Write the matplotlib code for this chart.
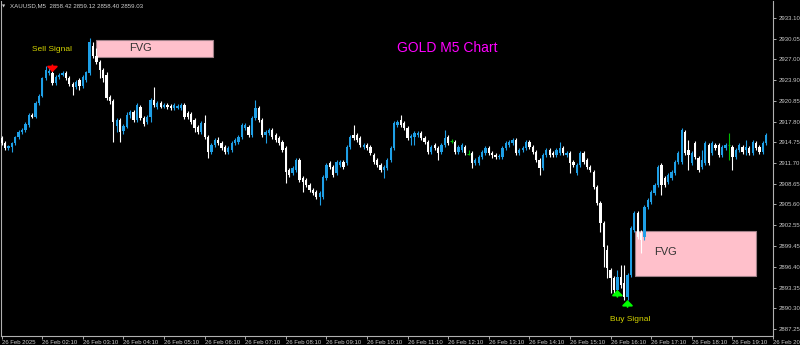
import matplotlib
matplotlib.use('Agg')
import matplotlib.pyplot as plt
import numpy as np
from matplotlib.patches import Rectangle

plt.rcParams['font.family'] = ['Liberation Sans', 'DejaVu Sans']

# ---------------- data (XAUUSD M5, 26 Feb 2025, from 01:10) ----------------
opens = [
    2915.4, 2914.7, 2913.9, 2914.1, 2914.7, 2915.6, 2916.3, 2916.6, 2917.3, 2918.8,
    2918.5, 2920.6, 2921.6, 2924.3, 2925.0, 2925.0, 2923.5, 2924.4, 2924.7, 2925.0,
    2924.3, 2923.4, 2922.9, 2924.0, 2923.1, 2924.0, 2925.0, 2929.0, 2927.5, 2926.6,
    2925.4, 2924.7, 2921.5, 2920.9, 2917.2, 2918.1, 2916.4, 2917.0, 2918.8, 2919.2,
    2918.1, 2920.0, 2918.4, 2917.8, 2918.5, 2921.0, 2920.0, 2920.6, 2920.0, 2920.3,
    2920.1, 2919.8, 2919.8, 2919.8, 2920.3, 2919.1, 2918.9, 2918.1, 2917.0, 2916.3,
    2917.6, 2915.6, 2913.3, 2914.4, 2915.1, 2914.7, 2914.1, 2913.3, 2913.6, 2914.7,
    2914.8, 2915.6, 2916.9, 2917.0, 2915.9, 2918.4, 2919.8, 2918.1, 2915.9, 2916.1,
    2916.6, 2915.9, 2915.4, 2914.8, 2913.9, 2910.7, 2910.3, 2910.7, 2912.2, 2909.5,
    2909.2, 2908.5, 2907.7, 2907.4, 2906.7, 2906.7, 2909.5, 2911.7, 2911.1, 2910.3,
    2911.4, 2911.9, 2911.7, 2914.1, 2915.9, 2915.9, 2915.4, 2914.1, 2914.4, 2914.1,
    2912.9, 2912.2, 2911.4, 2910.7, 2911.0, 2912.2, 2913.9, 2917.3, 2918.1, 2917.6,
    2916.9, 2915.4, 2915.6, 2915.9, 2916.1, 2915.4, 2914.8, 2913.3, 2914.4, 2913.9,
    2913.3, 2914.4, 2915.6, 2915.0, 2914.8, 2913.3, 2913.6, 2914.1, 2913.1, 2913.2,
    2911.7, 2911.7, 2912.6, 2913.2, 2913.9, 2913.2, 2912.9, 2912.6, 2912.6, 2913.9,
    2914.4, 2914.7, 2915.1, 2913.2, 2913.6, 2913.9, 2914.8, 2914.1, 2913.3, 2912.2,
    2911.0, 2912.9, 2913.6, 2913.2, 2912.9, 2913.2, 2913.9, 2912.9, 2913.2, 2911.9,
    2910.3, 2911.4, 2913.2, 2912.2, 2911.1, 2910.4, 2908.2, 2905.8, 2902.9, 2898.9,
    2896.0, 2894.8, 2893.0, 2894.9, 2894.0, 2892.0, 2895.2, 2901.9, 2904.3, 2901.4,
    2900.8, 2905.2, 2906.0, 2907.3, 2908.5, 2911.4, 2909.5, 2908.9, 2909.5, 2910.3,
    2911.9, 2911.9, 2916.3, 2913.6, 2911.7, 2914.7, 2912.5, 2911.1, 2911.7, 2914.4,
    2913.2, 2914.4, 2914.4, 2912.9, 2913.9, 2914.4, 2914.1, 2912.6, 2913.6, 2914.1,
    2913.6, 2913.9, 2913.2, 2914.7, 2914.1, 2913.3, 2914.7,
]
highs = [
    2915.7, 2915.0, 2914.4, 2914.8, 2915.7, 2916.6, 2916.9, 2917.8, 2919.1, 2919.1,
    2920.9, 2921.9, 2924.4, 2926.0, 2926.0, 2925.4, 2924.7, 2925.0, 2925.3, 2925.3,
    2924.5, 2923.7, 2924.0, 2924.3, 2924.7, 2925.3, 2930.1, 2929.6, 2928.7, 2926.9,
    2925.7, 2925.1, 2921.7, 2921.2, 2918.4, 2918.4, 2917.5, 2919.2, 2919.5, 2919.5,
    2920.6, 2920.3, 2918.6, 2918.8, 2921.3, 2922.9, 2920.9, 2920.9, 2920.6, 2920.6,
    2920.4, 2920.6, 2920.4, 2920.6, 2920.6, 2919.4, 2919.2, 2918.4, 2917.3, 2917.9,
    2918.8, 2915.9, 2914.7, 2915.4, 2915.6, 2915.0, 2914.4, 2914.2, 2915.0, 2915.4,
    2915.9, 2917.6, 2917.6, 2917.3, 2918.6, 2921.0, 2920.1, 2918.4, 2916.6, 2916.9,
    2916.9, 2916.1, 2915.7, 2915.1, 2914.2, 2911.0, 2911.3, 2912.5, 2912.5, 2909.8,
    2909.5, 2908.8, 2908.0, 2907.7, 2907.6, 2910.0, 2911.7, 2912.0, 2911.4, 2912.2,
    2912.2, 2912.2, 2914.4, 2915.9, 2917.3, 2916.1, 2915.7, 2914.7, 2914.7, 2914.4,
    2913.2, 2912.5, 2911.7, 2911.4, 2912.5, 2914.2, 2917.9, 2918.1, 2918.8, 2917.9,
    2917.2, 2916.0, 2916.4, 2916.4, 2916.4, 2915.7, 2915.1, 2914.4, 2914.7, 2914.2,
    2914.7, 2916.6, 2915.9, 2915.3, 2915.1, 2914.4, 2914.7, 2914.4, 2913.6, 2913.5,
    2912.5, 2912.9, 2913.6, 2914.2, 2914.2, 2913.5, 2913.2, 2913.0, 2914.2, 2915.0,
    2915.1, 2915.4, 2915.4, 2913.9, 2914.2, 2915.1, 2915.1, 2914.4, 2913.6, 2912.5,
    2913.2, 2913.9, 2913.9, 2913.5, 2913.9, 2914.8, 2914.2, 2913.5, 2913.5, 2912.2,
    2911.7, 2913.5, 2913.5, 2912.5, 2911.4, 2910.7, 2908.5, 2906.1, 2903.2, 2899.6,
    2896.2, 2895.1, 2896.0, 2896.7, 2896.7, 2895.5, 2902.4, 2904.6, 2904.6, 2901.9,
    2905.5, 2906.6, 2907.7, 2908.8, 2911.4, 2911.7, 2909.8, 2910.3, 2910.7, 2912.2,
    2913.5, 2916.9, 2916.6, 2915.1, 2913.5, 2915.0, 2912.8, 2913.6, 2915.0, 2914.7,
    2915.0, 2914.7, 2914.7, 2914.4, 2914.7, 2916.1, 2914.4, 2913.9, 2914.7, 2914.4,
    2915.1, 2914.2, 2915.1, 2915.0, 2914.4, 2915.0, 2916.1,
]
lows = [
    2914.4, 2913.6, 2913.6, 2913.3, 2914.4, 2915.3, 2916.0, 2916.3, 2917.0, 2918.4,
    2918.4, 2920.3, 2921.5, 2924.0, 2924.7, 2923.2, 2923.2, 2924.1, 2924.5, 2924.0,
    2923.1, 2921.7, 2922.6, 2922.5, 2922.8, 2923.7, 2924.7, 2927.2, 2926.3, 2924.3,
    2923.7, 2921.0, 2920.4, 2914.8, 2916.3, 2914.8, 2916.0, 2916.9, 2918.4, 2917.8,
    2917.8, 2918.1, 2917.2, 2917.5, 2917.8, 2920.0, 2919.7, 2919.8, 2919.8, 2919.7,
    2919.5, 2919.5, 2919.7, 2919.5, 2918.2, 2918.2, 2917.5, 2916.3, 2916.0, 2916.0,
    2915.3, 2912.5, 2913.0, 2914.1, 2914.4, 2913.6, 2913.0, 2913.0, 2913.3, 2914.4,
    2914.5, 2915.3, 2916.6, 2915.6, 2915.6, 2918.1, 2917.8, 2915.6, 2914.7, 2915.9,
    2915.3, 2914.8, 2914.4, 2913.3, 2908.8, 2909.7, 2910.0, 2910.4, 2908.9, 2907.4,
    2908.2, 2907.4, 2907.0, 2906.4, 2905.5, 2906.4, 2909.2, 2910.8, 2909.7, 2910.0,
    2911.1, 2910.8, 2911.4, 2913.8, 2915.1, 2914.8, 2914.1, 2913.8, 2913.6, 2912.9,
    2911.6, 2911.1, 2910.4, 2909.5, 2910.7, 2911.9, 2913.6, 2917.0, 2917.0, 2916.6,
    2915.1, 2914.4, 2914.4, 2915.6, 2915.1, 2914.5, 2913.0, 2913.0, 2913.6, 2912.2,
    2913.0, 2914.1, 2914.4, 2914.7, 2913.0, 2913.0, 2913.3, 2912.9, 2912.9, 2911.0,
    2911.4, 2911.4, 2912.3, 2912.9, 2912.9, 2912.5, 2912.3, 2912.3, 2912.3, 2913.6,
    2914.1, 2914.4, 2912.9, 2912.9, 2913.3, 2913.6, 2913.8, 2913.0, 2911.9, 2910.0,
    2910.7, 2912.6, 2912.6, 2912.6, 2912.6, 2912.9, 2912.9, 2912.6, 2910.3, 2911.1,
    2910.0, 2911.1, 2911.6, 2910.8, 2910.4, 2907.9, 2905.5, 2901.6, 2896.4, 2894.8,
    2892.6, 2892.3, 2892.7, 2893.3, 2891.5, 2891.5, 2894.9, 2901.6, 2900.5, 2898.5,
    2900.4, 2904.9, 2905.7, 2907.0, 2908.2, 2907.0, 2908.2, 2908.6, 2909.2, 2910.0,
    2911.6, 2911.6, 2912.9, 2910.7, 2911.4, 2912.3, 2910.4, 2910.8, 2911.4, 2911.4,
    2912.9, 2913.6, 2912.6, 2912.6, 2913.6, 2912.2, 2910.7, 2912.3, 2913.3, 2913.0,
    2912.9, 2912.9, 2912.9, 2913.6, 2913.0, 2913.0, 2914.4,
]
closes = [
    2914.7, 2913.9, 2914.2, 2914.7, 2915.6, 2916.3, 2916.6, 2917.5, 2918.8, 2918.5,
    2920.6, 2921.6, 2924.3, 2925.4, 2925.3, 2923.5, 2924.4, 2924.7, 2925.0, 2924.3,
    2923.4, 2922.9, 2923.7, 2923.1, 2924.4, 2925.1, 2929.6, 2927.5, 2926.6, 2925.4,
    2924.3, 2921.3, 2920.9, 2917.8, 2918.1, 2916.3, 2917.2, 2918.8, 2919.2, 2918.1,
    2920.3, 2918.4, 2917.5, 2918.5, 2921.0, 2920.3, 2920.6, 2920.0, 2920.3, 2920.0,
    2919.8, 2920.3, 2920.1, 2920.3, 2918.5, 2918.5, 2917.8, 2916.9, 2916.3, 2917.6,
    2915.6, 2913.3, 2914.4, 2915.1, 2914.7, 2913.9, 2913.3, 2913.9, 2914.7, 2915.1,
    2915.6, 2917.3, 2917.3, 2915.9, 2918.4, 2919.8, 2918.1, 2915.9, 2916.3, 2916.6,
    2915.6, 2915.1, 2914.7, 2913.6, 2910.4, 2910.0, 2911.0, 2912.2, 2909.2, 2908.9,
    2908.5, 2907.7, 2907.3, 2906.7, 2907.3, 2909.7, 2911.4, 2911.1, 2910.0, 2911.9,
    2911.9, 2911.1, 2914.1, 2915.6, 2915.4, 2915.1, 2914.4, 2914.4, 2913.9, 2913.2,
    2911.9, 2911.4, 2910.7, 2911.1, 2912.2, 2913.9, 2917.6, 2917.8, 2917.3, 2916.9,
    2915.4, 2915.7, 2916.1, 2916.1, 2915.4, 2914.8, 2913.3, 2914.1, 2913.9, 2913.2,
    2914.4, 2915.4, 2914.7, 2915.0, 2913.3, 2914.1, 2914.4, 2913.2, 2913.1, 2911.7,
    2912.2, 2912.6, 2913.3, 2913.9, 2913.2, 2912.9, 2912.6, 2912.8, 2913.9, 2914.7,
    2914.8, 2915.1, 2913.2, 2913.6, 2913.9, 2914.8, 2914.1, 2913.3, 2912.2, 2911.0,
    2912.9, 2913.6, 2912.9, 2912.9, 2913.6, 2913.9, 2913.2, 2913.2, 2911.7, 2911.4,
    2911.4, 2913.2, 2911.9, 2911.1, 2910.7, 2908.2, 2905.8, 2902.9, 2899.3, 2896.2,
    2894.8, 2893.0, 2894.9, 2893.7, 2892.0, 2895.2, 2902.1, 2904.3, 2900.8, 2900.4,
    2905.2, 2906.3, 2907.4, 2908.5, 2911.1, 2908.5, 2908.5, 2910.0, 2910.4, 2911.9,
    2913.2, 2916.6, 2913.2, 2912.9, 2913.2, 2912.6, 2910.7, 2912.2, 2914.7, 2911.7,
    2914.7, 2913.9, 2912.9, 2914.1, 2914.4, 2914.4, 2912.6, 2913.6, 2914.4, 2913.3,
    2914.1, 2913.2, 2914.8, 2913.9, 2913.3, 2914.7, 2915.9,
]

price_ticks = [2933.10, 2930.05, 2927.00, 2923.90, 2920.85, 2917.80, 2914.75, 2911.70,
               2908.65, 2905.60, 2902.55, 2899.45, 2896.40, 2893.35, 2890.30, 2887.25]
time_labels = ["26 Feb 2025", "26 Feb 02:10", "26 Feb 03:10", "26 Feb 04:10", "26 Feb 05:10",
               "26 Feb 06:10", "26 Feb 07:10", "26 Feb 08:10", "26 Feb 09:10", "26 Feb 10:10",
               "26 Feb 11:10", "26 Feb 12:10", "26 Feb 13:10", "26 Feb 14:10", "26 Feb 15:10",
               "26 Feb 16:10", "26 Feb 17:10", "26 Feb 18:10", "26 Feb 19:10", "26 Feb 20:10"]
bars_per_label = 12

# Fair value gaps: start bar, end bar, top price, bottom price, label position
fvg_start = [27.8, 187.1]
fvg_end = [62.6, 223.1]
fvg_top = [2929.85, 2901.7]
fvg_bottom = [2927.35, 2895.1]
fvg_label_x = [41.1, 196.3]
fvg_label_y = [2928.6, 2898.6]

# signal arrows: bar and price of arrow tip
sell_bar = [15]
sell_arrow_tip = [2925.1]
buy_bars = [182, 185]
buy_arrow_tip = [2893.0, 2891.5]
sell_text = (14.8, 2928.4)
buy_text = (185.9, 2888.7)

header = "XAUUSD,M5  2858.42 2859.12 2858.40 2859.03"

# ---------------- drawing ----------------
BULL = '#1e9fe6'
BEAR = '#ffffff'
DOJI = '#00c000'

o = np.array(opens); h = np.array(highs); l = np.array(lows); c = np.array(closes)
n = len(c)
idx = np.arange(n)

fig = plt.figure(figsize=(8, 3.45), dpi=100, facecolor='black')
ax = fig.add_axes([1/800, 9/345, 772/800, 335/345])
ax.set_facecolor('black')
ax.set_xlim(-0.2, 228.0)
ax.set_ylim(2886.2, 2935.6)

cols = np.where(c > o, BULL, np.where(c < o, BEAR, DOJI))
ax.vlines(idx, l, h, colors=cols, linewidth=0.8, zorder=3)
ax.bar(idx, np.abs(c - o), bottom=np.minimum(o, c), width=0.68, color=cols,
       linewidth=0, zorder=4)
for i in idx[c == o]:
    ax.hlines(o[i], i - 0.4, i + 0.4, color=DOJI, linewidth=0.8, zorder=4)

for k in range(len(fvg_start)):
    ax.add_patch(Rectangle((fvg_start[k], fvg_bottom[k]), fvg_end[k] - fvg_start[k],
                           fvg_top[k] - fvg_bottom[k], facecolor='#ffc0cb',
                           edgecolor='#a08088', linewidth=0.8, zorder=2))
    ax.text(fvg_label_x[k], fvg_label_y[k], 'FVG', fontsize=8, color='#333333',
            ha='center', va='center', zorder=5)

arrow_style = '-|>,head_length=0.45,head_width=0.45'
for b, p in zip(sell_bar, sell_arrow_tip):
    ax.annotate('', xy=(b, p), xytext=(0, 5), textcoords='offset points',
                arrowprops=dict(arrowstyle=arrow_style, color='#ff0000', lw=1.3,
                                mutation_scale=7, shrinkA=0, shrinkB=0), zorder=6)
for b, p in zip(buy_bars, buy_arrow_tip):
    ax.annotate('', xy=(b, p), xytext=(0, -5), textcoords='offset points',
                arrowprops=dict(arrowstyle=arrow_style, color='#00ff00', lw=1.3,
                                mutation_scale=7, shrinkA=0, shrinkB=0), zorder=6)

ax.text(*sell_text, 'Sell Signal', color='#d4d400', fontsize=6, ha='center', va='center')
ax.text(*buy_text, 'Buy Signal', color='#d4d400', fontsize=6, ha='center', va='center')
ax.text(0.578, 0.86, 'GOLD M5 Chart', transform=ax.transAxes, color='#ff00ff',
        fontsize=10, ha='center', va='center')

fig.text(10/800, 1 - 6/345, header, color='#d0d0d0', fontsize=4.4, va='center')
fig.text(4/800, 1 - 6/345, '▼', color='#d0d0d0', fontsize=3, va='center',
         ha='center', family='DejaVu Sans')

# axes
ax.yaxis.tick_right()
ax.set_yticks(price_ticks)
ax.set_yticklabels([f'{p:.2f}' for p in price_ticks])
ax.tick_params(axis='y', colors='#c8c8c8', labelsize=4.3, length=2, width=0.6, pad=2)
xt = [k * bars_per_label for k in range(len(time_labels))]
ax.set_xticks(xt)
ax.set_xticklabels(time_labels)
for lab in ax.get_xticklabels():
    lab.set_horizontalalignment('left')
ax.tick_params(axis='x', colors='#c8c8c8', labelsize=4.3, length=2, width=0.6, pad=1)
for s in ['left', 'right', 'bottom']:
    ax.spines[s].set_color('#b0b0b0')
    ax.spines[s].set_linewidth(0.8)
ax.spines['top'].set_visible(False)

fig.savefig('out.png', dpi=100, facecolor='black')
